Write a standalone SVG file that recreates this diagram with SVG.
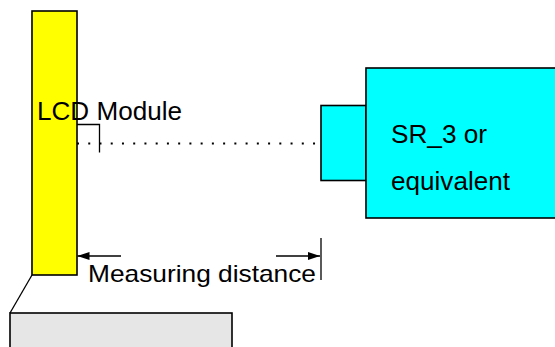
<svg xmlns="http://www.w3.org/2000/svg" width="555" height="347" viewBox="0 0 555 347">
<style>
.box{stroke:#000;stroke-width:1.6}
.ln{stroke:#000;stroke-width:1.3;fill:none}
.t{font-family:"Liberation Sans",Arial,sans-serif;font-size:26px;fill:#000}
</style>
<defs>
<marker id="ah" viewBox="0 0 12 8" refX="12" refY="4" markerWidth="12" markerHeight="8" markerUnits="userSpaceOnUse" orient="auto">
<path d="M0,0 L12,4 L0,8 Z" fill="#000"/>
</marker>
</defs>
<rect width="555" height="347" fill="#fff"/>
<g id="stand">
<rect class="box" x="10" y="313" width="222" height="40" fill="#e6e6e6"/>
</g>
<g id="lcd">
<rect class="box" x="32" y="11" width="45" height="264" fill="#ffff00"/>
</g>
<g id="sensor">
<rect class="box" x="321" y="105.5" width="45" height="75" fill="#00ffff"/>
<rect class="box" x="366" y="68" width="195" height="150" fill="#00ffff"/>
<text class="t" x="391" y="143" textLength="96" lengthAdjust="spacingAndGlyphs">SR_3 or</text>
<text class="t" x="391" y="190" textLength="119" lengthAdjust="spacingAndGlyphs">equivalent</text>
</g>
<g id="connectors">
<line class="ln" x1="32" y1="275" x2="10" y2="313"/>
<polyline class="ln" points="77,124.5 99.5,124.5 99.5,152.5"/>
<line x1="77" y1="143.5" x2="316" y2="143.5" stroke="#000" stroke-width="2" stroke-dasharray="2 9.24"/>
<line class="ln" x1="121" y1="256" x2="77.5" y2="256" marker-end="url(#ah)"/>
<line class="ln" x1="276" y1="256" x2="320" y2="256" marker-end="url(#ah)"/>
<line class="ln" x1="321" y1="238" x2="321" y2="280"/>
</g>
<g id="labels">
<text class="t" x="37" y="120" textLength="145" lengthAdjust="spacingAndGlyphs">LCD Module</text>
<text class="t" x="88" y="282" font-size="24" style="font-size:24px" textLength="228" lengthAdjust="spacingAndGlyphs">Measuring distance</text>
</g>
</svg>
